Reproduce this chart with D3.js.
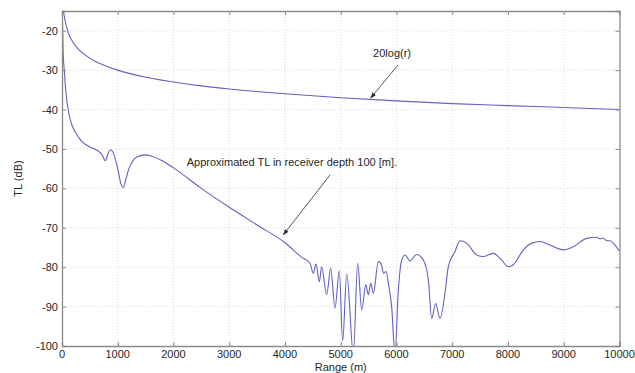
<!DOCTYPE html>
<html>
<head>
  <meta charset="utf-8">
  <title>Transmission loss vs range</title>
  <style>
    html, body {
      margin: 0;
      padding: 0;
      background: #fff;
    }
    svg {
      display: block;
      font-family: "Liberation Sans", Arial, sans-serif;
    }
    .grid line {
      stroke: #dadada;
      stroke-dasharray: 1,2;
    }
    .tick-label {
      font-size: 11px;
      fill: #262626;
    }
    .curve {
      fill: none;
      stroke: #6262c2;
      stroke-width: 1.1;
    }
  </style>
</head>
<body>
  <svg id="chart" width="635" height="373"></svg>

  <script src="https://d3js.org/d3.v7.min.js"></script>
  <script>
    // ticks
    const xTicks = [0, 1000, 2000, 3000, 4000, 5000, 6000, 7000, 8000, 9000, 10000];
    const yTicks = [-20, -30, -40, -50, -60, -70, -80, -90, -100];

    // spherical spreading curve: [range, TL]
    const spreading = [
      [25, -15], [50, -17], [100, -20], [150, -21.8], [200, -23], [300, -24.8],
      [400, -26], [600, -27.8], [800, -29], [1000, -30], [1500, -31.8],
      [2000, -33], [2500, -34], [3000, -34.8], [4000, -36], [5000, -37],
      [6000, -37.8], [7000, -38.5], [8000, -39], [9000, -39.5], [10000, -40]
    ];

    // approximated TL at receiver depth 100 m
    const approxTL = [
      [5, -15], [20, -25], [40, -30], [60, -34], [90, -38], [130, -41.5],
      [180, -44], [250, -46], [350, -48], [500, -49.5], [650, -50.5],
      [720, -51.5], [775, -53], [830, -51], [870, -50.2], [920, -51],
      [1000, -55], [1060, -59], [1100, -59.8], [1140, -58], [1200, -55],
      [1300, -52.5], [1400, -51.7], [1500, -51.5], [1600, -51.8],
      [1800, -53], [2000, -54.8], [2500, -60], [3000, -64.8], [3500, -69.3],
      [4000, -73.8], [4300, -77.5], [4448, -79], [4508, -81.5], [4556, -79.2],
      [4616, -83.7], [4658, -79.9], [4747, -87], [4820, -80.3], [4897, -90.4],
      [4974, -80.9], [5035, -98.7], [5107, -81.7], [5226, -102], [5304, -79],
      [5376, -90.9], [5448, -84.5], [5496, -87], [5537, -84.1], [5585, -86.6],
      [5675, -78.6], [5735, -79.6], [5764, -81.5], [5812, -81.1], [5854, -84.1],
      [5913, -90], [5973, -102], [6033, -85.8], [6093, -78.2], [6152, -76.9],
      [6242, -78.4], [6362, -76.8], [6481, -78.2], [6571, -83.2], [6631, -93],
      [6702, -89.2], [6780, -93], [6870, -86.6], [6929, -79.9], [7049, -76],
      [7139, -73.3], [7259, -73.9], [7438, -76.9], [7557, -77.3], [7737, -76.5],
      [7886, -78.2], [8006, -79.9], [8096, -79.4], [8275, -75.6], [8425, -73.9],
      [8574, -73.5], [8753, -74.4], [8992, -75.6], [9171, -74.8], [9411, -72.7],
      [9590, -72.4], [9650, -72.8], [9710, -72.6], [9770, -73.3], [9829, -73.3],
      [9919, -74.4], [10000, -76]
    ];

    // annotations: text anchor and arrow [from, to] in data units
    const notes = [
      { text: "20log(r)", at: [5580, -25.6], from: [6027, -28.7], to: [5537, -37.1] },
      { text: "Approximated TL in receiver depth 100 [m].", at: [2237, -53.3], from: [4807, -56.6], to: [3970, -71.8] }
    ];

    const svg = d3.select("#chart");
    const margin = { top: 11, right: 15.5, bottom: 27, left: 62 };
    const W = 635, H = 373;

    const x = d3.scaleLinear().domain([0, 10000]).range([margin.left, W - margin.right]);
    const y = d3.scaleLinear().domain([-100, -15]).range([H - margin.bottom, margin.top]);

    svg.append("defs").append("clipPath").attr("id", "plot-clip")
      .append("rect")
      .attr("x", x(0)).attr("y", y(-15))
      .attr("width", x(10000) - x(0)).attr("height", y(-100) - y(-15));

    const marker = svg.select("defs").append("marker")
      .attr("id", "head")
      .attr("viewBox", "0 0 10 10")
      .attr("refX", 9).attr("refY", 5)
      .attr("markerWidth", 7).attr("markerHeight", 7)
      .attr("orient", "auto");
    marker.append("path").attr("d", "M0,1.5 L10,5 L0,8.5 Z").attr("fill", "#333");

    // grid
    const grid = svg.append("g").attr("class", "grid");
    grid.selectAll("line.vx")
      .data(xTicks.slice(1, -1))
      .enter().append("line")
      .attr("x1", d => x(d)).attr("x2", d => x(d))
      .attr("y1", y(-15)).attr("y2", y(-100));
    grid.selectAll("line.hy")
      .data(yTicks.slice(0, -1))
      .enter().append("line")
      .attr("x1", x(0)).attr("x2", x(10000))
      .attr("y1", d => y(d)).attr("y2", d => y(d));

    // curves
    const line = d3.line()
      .x(d => x(d[0]))
      .y(d => y(d[1]))
      .curve(d3.curveMonotoneX);

    const plot = svg.append("g").attr("clip-path", "url(#plot-clip)");
    plot.append("path").attr("class", "curve").attr("d", line(spreading));
    plot.append("path").attr("class", "curve").attr("d", line(approxTL));

    // axes box with inward ticks
    const axisColor = "#8a8a8a";
    const xAxis = d3.axisBottom(x).tickValues(xTicks).tickSize(-4).tickFormat("");
    const xTop = d3.axisTop(x).tickValues(xTicks).tickSize(-4).tickFormat("");
    const yAxis = d3.axisLeft(y).tickValues(yTicks).tickSize(-4).tickFormat("");
    const yRight = d3.axisRight(y).tickValues(yTicks).tickSize(-4).tickFormat("");

    svg.append("g").attr("transform", `translate(0,${y(-100)})`).call(xAxis);
    svg.append("g").attr("transform", `translate(0,${y(-15)})`).call(xTop);
    svg.append("g").attr("transform", `translate(${x(0)},0)`).call(yAxis);
    svg.append("g").attr("transform", `translate(${x(10000)},0)`).call(yRight);
    svg.selectAll(".domain, .tick line").attr("stroke", axisColor);
    svg.selectAll(".domain").attr("stroke-width", 1.3);

    // tick labels
    svg.selectAll("text.xl")
      .data(xTicks)
      .enter().append("text")
      .attr("class", "tick-label")
      .attr("x", d => x(d))
      .attr("y", y(-100) + 12)
      .attr("text-anchor", "middle")
      .text(d => d);
    svg.selectAll("text.yl")
      .data(yTicks)
      .enter().append("text")
      .attr("class", "tick-label")
      .attr("x", x(0) - 4)
      .attr("y", d => y(d) + 4)
      .attr("text-anchor", "end")
      .text(d => d);

    // axis titles
    svg.append("text")
      .attr("class", "tick-label")
      .attr("x", (x(0) + x(10000)) / 2)
      .attr("y", 371)
      .attr("text-anchor", "middle")
      .text("Range (m)");
    svg.append("text")
      .attr("class", "tick-label")
      .attr("transform", `translate(22,${(y(-15) + y(-100)) / 2}) rotate(-90)`)
      .attr("text-anchor", "middle")
      .text("TL (dB)");

    // annotations
    notes.forEach(n => {
      svg.append("text")
        .attr("class", "tick-label")
        .attr("x", x(n.at[0]))
        .attr("y", y(n.at[1]) + 4)
        .text(n.text);
      svg.append("line")
        .attr("x1", x(n.from[0])).attr("y1", y(n.from[1]))
        .attr("x2", x(n.to[0])).attr("y2", y(n.to[1]))
        .attr("stroke", "#444")
        .attr("stroke-width", 0.9)
        .attr("marker-end", "url(#head)");
    });
  </script>
</body>
</html>
